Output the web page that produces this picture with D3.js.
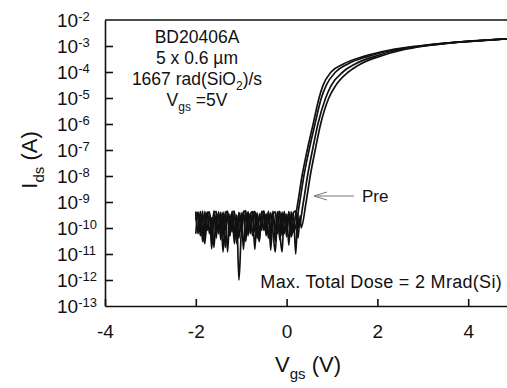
<!DOCTYPE html>
<html>

<head>
  <title>Ids vs Vgs</title>
  <script type="text/javascript" src="https://cdn.jsdelivr.net/npm/d3@7"></script>
  <style>
    body { margin: 0; background: #fff; }
    text { font-family: "Liberation Sans", Arial, sans-serif; fill: #111; }
  </style>
</head>

<body>
  <script type="text/javascript">
    // Size of the page
    const w = 507;
    const h = 388;

    // Tick values
    const xTicks = [-4, -2, 0, 2, 4];
    const yExponents = [-2, -3, -4, -5, -6, -7, -8, -9, -10, -11, -12, -13];

    // Noise floor, Vgs grid (V) and the four traces (A)
    const floorV = [-2.00, -1.95, -1.90, -1.85, -1.80, -1.75, -1.70, -1.65, -1.60, -1.55,
      -1.50, -1.45, -1.40, -1.35, -1.30, -1.25, -1.20, -1.15, -1.10, -1.05,
      -1.00, -0.95, -0.90, -0.85, -0.80, -0.75, -0.70, -0.65, -0.60, -0.55,
      -0.50, -0.45, -0.40, -0.35, -0.30, -0.25, -0.20, -0.15, -0.10, -0.05,
      0.00, 0.05, 0.10, 0.15, 0.20, 0.25, 0.30];
    const floorA = [2e-10, 4e-10, 5e-11, 3e-10, 8e-11, 4.2e-10, 6e-11, 2.5e-10, 1.8e-11, 3.8e-10,
      7e-11, 4e-10, 1.2e-11, 3e-10, 4.5e-10, 5e-11, 3.5e-10, 2.5e-11, 2.8e-10, 1e-12,
      6e-11, 4e-10, 4e-11, 4.3e-10, 9e-11, 3.8e-10, 1.5e-11, 3.2e-10, 6e-11, 4e-10,
      8e-11, 3.6e-10, 4e-11, 3.9e-10, 7e-11, 1.2e-11, 3e-10, 4.4e-10, 5e-11, 3.6e-10,
      8e-11, 4e-10, 4.5e-11, 1.5e-11, 3.4e-10, 7e-11, 3e-10];
    const floorB = [4e-10, 6e-11, 4.4e-10, 8e-11, 2.5e-11, 3.6e-10, 4.2e-10, 5e-11, 3.8e-10, 4e-11,
      4.3e-10, 9e-11, 3.5e-10, 1.8e-11, 4e-10, 7e-11, 4.5e-10, 6e-11, 3.2e-10, 4e-11,
      3.9e-10, 1.5e-11, 4.2e-10, 7e-11, 3.6e-10, 5e-11, 4.4e-10, 8e-11, 3e-11, 3.9e-10,
      4.4e-10, 6e-11, 3.7e-10, 4e-11, 4.5e-10, 8e-11, 3.9e-10, 3.5e-11, 4.2e-10, 6e-11,
      3.4e-10, 2.2e-11, 4.3e-10, 7e-11, 3.8e-10, 5e-11, 3e-10];
    const floorC = [6e-11, 4.1e-10, 9e-11, 4.5e-10, 4e-11, 3.3e-10, 3.9e-10, 1.6e-11, 3.6e-10, 4.4e-10,
      6e-11, 3.9e-10, 5e-11, 4.3e-10, 1.2e-11, 3.4e-10, 7e-11, 4.2e-10, 3.5e-11, 3.8e-10,
      8e-11, 4.5e-10, 3e-11, 4e-10, 6e-11, 3.7e-10, 4.3e-10, 4e-11, 3.5e-10, 8e-11,
      4.6e-10, 5e-11, 4e-10, 1.4e-11, 3.3e-10, 4.3e-10, 6e-11, 3.9e-10, 8e-11, 4.4e-10,
      4.5e-11, 3.6e-10, 9e-11, 4.1e-10, 1e-11, 3.7e-10, 8e-11];
    const floorD = [4.3e-10, 7e-11, 3.5e-10, 3e-11, 4.4e-10, 8e-11, 3.8e-10, 5e-11, 4.6e-10, 9e-11,
      3.7e-10, 3.5e-11, 4.2e-10, 8e-11, 3.9e-10, 5e-11, 3.4e-10, 4.5e-10, 2.5e-11, 4e-10,
      7e-11, 3.8e-10, 4.7e-10, 5e-11, 3.5e-10, 4.3e-10, 7e-11, 3.9e-10, 3.5e-11, 4.4e-10,
      3.2e-10, 6e-11, 4.5e-10, 8e-11, 3.8e-10, 3e-11, 4.3e-10, 7e-11, 1.2e-11, 4e-10,
      8e-11, 4.4e-10, 5e-11, 3.7e-10, 4.6e-10, 4e-11, 3e-10];

    // Turn-on part: current levels (A) and the Vgs (V) where each trace reaches them
    const riseI = [1e-10, 1e-9, 1e-8, 1e-7, 1e-6, 1e-5, 3e-5, 1e-4, 2e-4, 4e-4, 7e-4, 1e-3, 1.4e-3, 1.9e-3, 2e-3];
    const riseVA = [0.15, 0.25, 0.34, 0.455, 0.585, 0.715, 0.80, 0.98, 1.24, 1.70, 2.28, 2.90, 3.75, 4.90, 5.10];
    const riseVB = [0.19, 0.29, 0.38, 0.495, 0.625, 0.765, 0.87, 1.08, 1.34, 1.80, 2.36, 2.95, 3.77, 4.90, 5.10];
    const riseVC = [0.26, 0.37, 0.46, 0.57, 0.69, 0.86, 0.98, 1.24, 1.50, 1.94, 2.47, 3.00, 3.78, 4.90, 5.10];
    const riseVD = [0.32, 0.43, 0.52, 0.63, 0.75, 0.93, 1.08, 1.36, 1.62, 2.05, 2.55, 3.05, 3.80, 4.90, 5.10];

    const traces = [
      { floor: floorA, rise: riseVA },
      { floor: floorB, rise: riseVB },
      { floor: floorC, rise: riseVC },
      { floor: floorD, rise: riseVD }
    ];

    // Plot area
    const plotLeft = 105, plotRight = 105 + 9 * 45.4, plotTop = 20, plotBottom = 306;

    const xScale = d3.scaleLinear().domain([-4, 5]).range([plotLeft, plotRight]);
    const yScale = d3.scaleLog().domain([1e-13, 1e-2]).range([plotBottom, plotTop]);

    const svg = d3.select("body")
      .append("svg")
      .attr("width", w)
      .attr("height", h);

    svg.append("defs").append("clipPath").attr("id", "plot")
      .append("rect")
      .attr("x", plotLeft).attr("y", plotTop - 2)
      .attr("width", w - plotLeft).attr("height", plotBottom - plotTop + 2);

    // Curves
    const line = d3.line()
      .x(function (d) { return xScale(d[0]); })
      .y(function (d) { return yScale(d[1]); })
      .curve(d3.curveMonotoneX);

    traces.forEach(function (t) {
      const pts = [];
      floorV.forEach(function (v, i) {
        if (v < t.rise[0]) pts.push([v, t.floor[i]]);
      });
      t.rise.forEach(function (v, i) { pts.push([v, riseI[i]]); });

      svg.append("path")
        .attr("clip-path", "url(#plot)")
        .attr("d", line(pts))
        .attr("fill", "none")
        .attr("stroke", "#111")
        .attr("stroke-width", 1.7)
        .attr("stroke-linejoin", "round");
    });

    // Axes
    const xAxis = d3.axisBottom(xScale)
      .tickValues(xTicks)
      .tickSize(-7)
      .tickSizeOuter(0)
      .tickPadding(19)
      .tickFormat(function (d) { return String(d); });

    const gx = svg.append("g")
      .attr("transform", "translate(0," + plotBottom + ")")
      .call(xAxis);
    gx.selectAll("text")
      .style("font-size", "19px")
      .style("font-family", "Liberation Sans, Arial, sans-serif")
      .attr("fill", "#111");

    const yAxis = d3.axisLeft(yScale)
      .tickValues(yExponents.slice(1, -1).map(function (e) { return Math.pow(10, e); }))
      .tickSize(-8)
      .tickSizeOuter(0)
      .tickFormat("");

    svg.append("g")
      .attr("transform", "translate(" + plotLeft + ",0)")
      .call(yAxis);

    svg.selectAll(".domain, .tick line")
      .attr("stroke", "#111")
      .attr("stroke-width", 1.6);

    // Top frame line
    svg.append("line")
      .attr("x1", plotLeft).attr("x2", w)
      .attr("y1", plotTop).attr("y2", plotTop)
      .attr("stroke", "#111")
      .attr("stroke-width", 1.6);

    // y tick labels: 10 with superscript exponent
    const yLab = svg.selectAll(".ylab")
      .data(yExponents)
      .enter()
      .append("text")
      .attr("class", "ylab")
      .attr("x", 57)
      .attr("y", function (d) { return yScale(Math.pow(10, d)) + 7; })
      .style("font-size", "19px");
    yLab.append("tspan").text("10");
    yLab.append("tspan")
      .attr("dy", -6)
      .style("font-size", "13px")
      .text(function (d) { return String(d); });

    // Axis titles
    const xt = svg.append("text")
      .attr("x", 308)
      .attr("y", 372)
      .attr("text-anchor", "middle")
      .style("font-size", "22px");
    xt.append("tspan").text("V");
    xt.append("tspan").attr("dy", 7).style("font-size", "15px").text("gs");
    xt.append("tspan").attr("dy", -7).text(" (V)");

    const yt = svg.append("text")
      .attr("transform", "translate(37,160) rotate(-90)")
      .attr("text-anchor", "middle")
      .style("font-size", "22px");
    yt.append("tspan").text("I");
    yt.append("tspan").attr("dy", 7).style("font-size", "15px").text("ds");
    yt.append("tspan").attr("dy", -7).text(" (A)");

    // Annotation block
    const note = svg.append("g").style("font-size", "17.5px").attr("text-anchor", "middle");
    note.append("text").attr("x", 197).attr("y", 43).text("BD20406A");
    note.append("text").attr("x", 197).attr("y", 64).text("5 x 0.6 \u00b5m");
    const l3 = note.append("text").attr("x", 197).attr("y", 85);
    l3.append("tspan").text("1667 rad(SiO");
    l3.append("tspan").attr("dy", 5).style("font-size", "12px").text("2");
    l3.append("tspan").attr("dy", -5).text(")/s");
    const l4 = note.append("text").attr("x", 197).attr("y", 106);
    l4.append("tspan").text("V");
    l4.append("tspan").attr("dy", 5).style("font-size", "12px").text("gs");
    l4.append("tspan").attr("dy", -5).text(" =5V");

    svg.append("text")
      .attr("x", 502)
      .attr("y", 288)
      .attr("text-anchor", "end")
      .style("font-size", "18px")
      .style("letter-spacing", "0.3px")
      .text("Max. Total Dose = 2 Mrad(Si)");

    // "Pre" label with open arrow
    svg.append("text")
      .attr("x", 362)
      .attr("y", 202)
      .style("font-size", "17px")
      .text("Pre");
    svg.append("path")
      .attr("d", "M354,196 L316,196 M327,192 L314,196 L327,200")
      .attr("fill", "none")
      .attr("stroke", "#777")
      .attr("stroke-width", 1);
  </script>
</body>

</html>
